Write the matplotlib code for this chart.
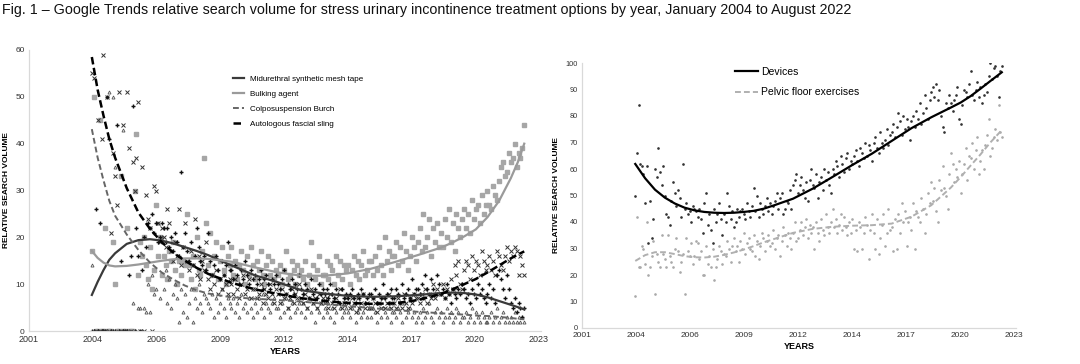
import numpy as np
import matplotlib
matplotlib.use("Agg")
import matplotlib.pyplot as plt

plt.rcParams['font.family'] = ['Liberation Sans', 'DejaVu Sans']

# ---- data (monthly, Jan 2004 - Aug 2022) ----
mesh = [0, 0, 26, 0, 23, 0, 0, 0, 50, 41, 0, 0,
        0, 44, 0, 15, 0, 0, 0, 12, 16, 48, 0, 22,
        16, 0, 13, 20, 18, 23, 22, 25, 21, 23, 19, 20,
        23, 22, 19, 22, 18, 20, 17, 21, 19, 16, 34, 18,
        21, 17, 15, 19, 14, 16, 22, 18, 15, 14, 16, 13,
        21, 15, 12, 14, 16, 13, 11, 15, 12, 14, 19, 13,
        13, 11, 14, 12, 10, 13, 11, 15, 12, 10, 13, 11,
        12, 10, 11, 13, 9, 11, 12, 10, 9, 11, 10, 12,
        10, 9, 11, 13, 8, 10, 9, 11, 8, 10, 9, 12,
        9, 8, 10, 9, 7, 11, 8, 9, 7, 10, 8, 9,
        8, 9, 7, 10, 8, 7, 9, 8, 6, 9, 7, 8,
        7, 8, 9, 7, 6, 8, 7, 9, 8, 6, 7, 8,
        8, 7, 9, 6, 8, 7, 10, 7, 8, 6, 9, 7,
        7, 9, 8, 6, 10, 7, 8, 9, 7, 11, 8, 9,
        9, 8, 10, 7, 12, 9, 8, 11, 9, 8, 12, 10,
        8, 9, 7, 10, 8, 6, 9, 8, 7, 9, 8, 10,
        9, 7, 8, 6, 9, 8, 7, 10, 8, 9, 7, 6,
        8, 10, 7, 9, 6, 12, 13, 11, 9, 7, 12, 9,
        6, 5, 7, 4, 6, 5, 3, 5]

bulking = [17, 50, 0, 0, 45, 0, 0, 22, 0, 0, 0, 19,
           10, 0, 0, 33, 0, 0, 22, 0, 0, 0, 30, 42,
           12, 19, 16, 20, 14, 11, 18, 9, 13, 27, 16, 20,
           12, 16, 14, 11, 17, 15, 19, 13, 10, 15, 12, 15,
           14, 25, 14, 11, 16, 9, 20, 13, 12, 17, 37, 23,
           14, 21, 12, 16, 19, 11, 15, 18, 13, 10, 16, 14,
           18, 12, 15, 11, 14, 17, 13, 10, 16, 12, 18, 14,
           11, 15, 13, 17, 12, 10, 14, 16, 12, 15, 11, 13,
           12, 14, 10, 13, 17, 11, 12, 15, 13, 10, 14, 12,
           13, 11, 15, 10, 12, 19, 14, 11, 13, 16, 10, 12,
           12, 15, 11, 14, 13, 10, 16, 12, 15, 11, 14, 13,
           14, 10, 13, 16, 12, 15, 11, 14, 17, 12, 13, 15,
           15, 12, 16, 13, 18, 14, 12, 20, 15, 17, 13, 16,
           16, 19, 14, 18, 15, 21, 17, 13, 16, 20, 18, 15,
           19, 22, 17, 25, 18, 20, 24, 16, 22, 19, 23, 18,
           21, 18, 24, 20, 26, 19, 23, 17, 25, 22, 20, 24,
           26, 22, 25, 21, 28, 24, 26, 27, 23, 29, 25, 27,
           30, 27, 26, 31, 29, 28, 32, 35, 36, 33, 34, 38,
           36, 37, 40, 35, 38, 37, 39, 44]

colpo = [14, 0, 0, 0, 0, 0, 0, 0, 0, 51, 0, 50,
         35, 0, 0, 0, 43, 0, 0, 0, 0, 6, 0, 0,
         5, 5, 0, 5, 4, 10, 4, 12, 8, 9, 23, 7,
         20, 9, 13, 6, 11, 5, 8, 10, 7, 2, 9, 4,
         8, 3, 6, 9, 2, 7, 5, 10, 6, 4, 8, 7,
         6, 5, 8, 3, 7, 4, 6, 9, 5, 3, 7, 6,
         5, 7, 4, 6, 3, 8, 5, 6, 4, 7, 5, 3,
         6, 4, 7, 5, 8, 3, 6, 5, 4, 6, 7, 5,
         5, 3, 6, 4, 7, 5, 3, 6, 8, 4, 5, 6,
         4, 6, 3, 5, 7, 4, 6, 2, 5, 4, 6, 3,
         5, 4, 6, 3, 5, 2, 4, 6, 5, 3, 4, 5,
         4, 3, 5, 6, 2, 4, 5, 3, 4, 6, 3, 5,
         3, 5, 4, 2, 6, 3, 5, 4, 3, 5, 2, 4,
         4, 3, 5, 4, 2, 6, 3, 4, 5, 3, 4, 2,
         3, 4, 2, 5, 3, 4, 6, 3, 2, 4, 5, 3,
         4, 2, 3, 5, 3, 4, 2, 3, 5, 4, 2, 3,
         3, 4, 2, 3, 5, 2, 4, 3, 2, 4, 3, 2,
         2, 3, 4, 2, 3, 5, 2, 3, 4, 2, 3, 2,
         3, 2, 4, 2, 3, 2, 3, 2]

sling = [55, 54, 0, 45, 0, 41, 59, 0, 50, 0, 21, 38,
         33, 27, 51, 0, 44, 0, 51, 39, 0, 36, 30, 37,
         49, 0, 35, 0, 29, 24, 22, 0, 31, 30, 23, 19,
         22, 20, 18, 26, 23, 17, 15, 19, 16, 26, 14, 18,
         23, 15, 13, 17, 14, 24, 12, 16, 11, 15, 13, 19,
         11, 9, 12, 10, 13, 8, 11, 9, 12, 10, 8, 11,
         10, 8, 11, 9, 7, 10, 12, 8, 9, 11, 7, 9,
         9, 7, 8, 10, 6, 9, 8, 7, 10, 8, 6, 9,
         8, 6, 9, 7, 8, 5, 7, 9, 6, 8, 7, 10,
         7, 6, 8, 5, 7, 9, 6, 7, 5, 8, 6, 7,
         6, 7, 5, 8, 6, 5, 7, 6, 9, 5, 6, 7,
         6, 5, 7, 6, 4, 7, 5, 6, 8, 5, 6, 5,
         5, 7, 6, 4, 6, 5, 7, 5, 6, 8, 5, 6,
         6, 5, 7, 6, 5, 8, 6, 5, 7, 6, 8, 7,
         7, 6, 8, 7, 9, 6, 8, 7, 10, 7, 9, 8,
         8, 10, 7, 9, 8, 11, 9, 14, 12, 15, 10, 9,
         13, 15, 14, 11, 16, 13, 15, 14, 12, 17, 15, 13,
         14, 16, 13, 15, 12, 17, 16, 14, 13, 16, 18, 15,
         17, 16, 18, 17, 12, 16, 14, 12]

devices = [50, 66, 84, 62, 61, 58, 47, 61, 32, 48, 34, 41,
           60, 57, 68, 59, 54, 61, 50, 43, 42, 39, 48, 55,
           51, 46, 52, 49, 42, 62, 45, 47, 43, 44, 40, 46,
           45, 44, 42, 45, 41, 36, 47, 51, 39, 43, 37, 32,
           45, 40, 43, 47, 41, 35, 43, 40, 51, 46, 41, 44,
           38, 40, 45, 42, 44, 45, 43, 41, 47, 44, 42, 46,
           53, 44, 50, 42, 47, 45, 43, 46, 49, 44, 47, 43,
           46, 48, 51, 45, 49, 51, 43, 45, 48, 47, 52, 45,
           54, 56, 58, 51, 54, 57, 52, 49, 55, 48, 56, 60,
           54, 53, 58, 49, 55, 57, 52, 60, 56, 59, 54, 51,
           60, 58, 63, 61, 57, 65, 62, 59, 64, 66, 60, 63,
           62, 65, 67, 63, 61, 68, 66, 64, 70, 65, 69, 67,
           63, 70, 72, 68, 66, 74, 70, 68, 71, 75, 69, 73,
           74, 77, 72, 76, 81, 78, 73, 80, 75, 79, 76, 71,
           78, 80, 76, 82, 79, 85, 77, 81, 88, 83, 79, 86,
           89, 91, 87, 92, 86, 90, 80, 76, 74, 85, 83, 88,
           85, 82, 86, 88, 91, 79, 77, 84, 90, 89, 87, 92,
           97, 88, 86, 90, 93, 87, 91, 85, 88, 92, 89, 95,
           100, 94, 98, 99, 95, 87, 97, 99]

pelvic = [12, 42, 23, 23, 31, 30, 24, 40, 20, 23, 27, 33,
          13, 28, 25, 23, 35, 28, 26, 23, 35, 27, 25, 23,
          30, 34, 29, 21, 25, 28, 13, 34, 29, 27, 32, 24,
          27, 33, 32, 26, 29, 20, 20, 31, 24, 27, 23, 30,
          18, 23, 26, 31, 29, 24, 28, 27, 33, 30, 25, 31,
          34, 29, 31, 25, 33, 30, 36, 28, 32, 34, 30, 29,
          35, 27, 33, 26, 31, 36, 34, 29, 33, 35, 31, 32,
          37, 30, 34, 35, 27, 33, 38, 35, 31, 36, 34, 30,
          36, 40, 33, 34, 37, 40, 35, 38, 41, 34, 39, 36,
          38, 30, 40, 36, 33, 41, 37, 35, 43, 38, 36, 40,
          45, 38, 41, 36, 39, 43, 37, 42, 38, 35, 40, 36,
          41, 30, 37, 29, 40, 38, 30, 36, 42, 39, 26, 37,
          43, 36, 30, 41, 28, 34, 39, 43, 31, 36, 45, 37,
          38, 29, 41, 30, 43, 36, 47, 40, 44, 31, 40, 42,
          37, 47, 30, 44, 42, 40, 49, 45, 36, 43, 51, 47,
          55, 48, 53, 44, 40, 56, 52, 61, 53, 50, 45, 58,
          66, 62, 55, 60, 57, 63, 51, 58, 62, 68, 56, 65,
          64, 70, 60, 67, 72, 58, 63, 67, 60, 69, 73, 79,
          65, 68, 72, 75, 71, 84, 74, 72]

# trend lines
trend_years_l = [2004, 2004.25, 2004.5, 2004.75, 2005, 2005.5, 2006, 2006.5, 2007, 2007.5,
                 2008, 2008.5, 2009, 2010, 2011, 2012, 2013, 2014, 2015, 2016, 2017, 2018,
                 2019, 2019.5, 2020, 2020.5, 2021, 2021.5, 2022, 2022.3, 2022.58]
mesh_trend = [7.7, 10.5, 13.0, 15.2, 16.6, 18.6, 19.4, 19.6, 19.3, 18.7, 17.9, 17.1, 16.2,
              14.0, 11.9, 10.4, 8.7, 8.0, 7.5, 7.3, 7.4, 7.7, 8.1, 8.2, 8.1, 7.8, 7.2,
              6.4, 5.6, 5.1, 4.6]
bulking_trend = [17.1, 15.6, 14.6, 14.0, 13.8, 13.9, 14.2, 14.6, 15.0, 15.3, 15.5, 15.5, 15.4,
                 14.8, 13.6, 12.5, 11.8, 11.8, 12.3, 13.3, 14.7, 16.2, 17.8, 18.9, 20.2, 21.7,
                 24.3, 27.8, 32.6, 36.0, 40.0]
colpo_trend = [43.1, 37.0, 32.2, 27.8, 24.6, 20.6, 17.3, 14.6, 12.5, 11.0, 9.7, 8.7, 8.0,
               7.2, 6.9, 6.6, 6.3, 5.8, 5.3, 4.9, 4.5, 4.1, 3.8, 3.6, 3.5, 3.3, 3.2, 3.0,
               2.8, 2.6, 2.5]
sling_trend = [58.5, 51.5, 46.0, 41.0, 37.0, 30.5, 25.3, 21.8, 19.0, 16.7, 15.0, 13.5, 12.2,
               10.3, 8.9, 7.9, 7.0, 6.4, 6.0, 5.8, 5.9, 6.6, 7.9, 8.9, 10.0, 11.1, 12.5, 14.0,
               15.5, 16.3, 17.0]

trend_years_r = [2004, 2004.5, 2005, 2005.5, 2006, 2006.5, 2007, 2007.5, 2008, 2008.5, 2009,
                 2009.5, 2010, 2010.5, 2011, 2011.5, 2012, 2013, 2014, 2015, 2016, 2017, 2018,
                 2019, 2020, 2020.5, 2021, 2021.5, 2022, 2022.58]
devices_trend = [61.9, 56.5, 52.2, 49.2, 47.0, 45.4, 44.4, 43.8, 43.5, 43.4, 43.5, 43.8, 44.2,
                 45.0, 46.2, 47.5, 48.8, 52.6, 57.0, 61.5, 65.8, 70.6, 75.4, 79.5, 83.2, 85.1,
                 87.5, 90.3, 93.2, 96.5]
pelvic_trend = [25.3, 27.5, 28.6, 28.6, 27.9, 27.1, 26.7, 26.6, 26.9, 27.6, 28.5, 29.6, 30.9,
                32.3, 33.5, 34.7, 35.9, 37.4, 38.2, 38.6, 38.8, 39.4, 42.0, 46.3, 53.0, 57.0,
                61.3, 65.5, 70.0, 74.7]

tick_labels = ['2001', '2004', '2006', '2009', '2012', '2014', '2017', '2020', '2023']

months = 2004 + np.arange(len(mesh)) / 12.0
ticks = 2001.3 + 2.738 * np.arange(len(tick_labels))

fig = plt.figure(figsize=(10.8, 3.64), dpi=100)
fig.text(0.002, 0.972, "Fig. 1 \u2013 Google Trends relative search volume for stress urinary "
         "incontinence treatment options by year, January 2004 to August 2022",
         fontsize=10.25, va='center', ha='left', color='#111111')


def style_axes(ax, ymax, ystep, ylab_size):
    ax.set_xlim(2001.3, 2023.3)
    ax.set_ylim(0, ymax)
    ax.set_xticks(ticks)
    ax.set_xticklabels(tick_labels)
    ax.set_yticks(np.arange(0, ymax + 1, ystep))
    for s in ['top', 'right']:
        ax.spines[s].set_visible(False)
    for s in ['left', 'bottom']:
        ax.spines[s].set_color('#d9d9d9')
        ax.spines[s].set_linewidth(0.9)
    ax.tick_params(length=0, pad=3, colors='#333333')
    ax.tick_params(axis='y', labelsize=ylab_size)
    ax.set_xlabel('YEARS', fontsize=6.5, fontweight='bold', labelpad=2)
    ax.set_ylabel('RELATIVE SEARCH VOLUME', fontsize=6, fontweight='bold', labelpad=4)


# ---- left panel ----
ax1 = fig.add_axes([29 / 1080, 33 / 364, 512 / 1080, 281 / 364])
style_axes(ax1, 60, 10, 6)
ax1.tick_params(axis='x', labelsize=6.5)

ax1.plot(months, bulking, 's', ms=2.2, color='#a6a6a6', mec='#a6a6a6', zorder=2)
ax1.plot(months, colpo, '^', ms=2.2, color='none', mec='#555555', mew=0.6, zorder=2)
ax1.plot(months, sling, 'x', ms=2.8, color='#333333', mew=0.7, zorder=2)
ax1.plot(months, mesh, '+', ms=2.8, color='#111111', mew=1.0, zorder=2)

l1, = ax1.plot(trend_years_l, mesh_trend, '-', color='#3a3a3a', lw=1.6, zorder=3,
               label='Midurethral synthetic mesh tape')
l2, = ax1.plot(trend_years_l, bulking_trend, '-', color='#9a9a9a', lw=1.6, zorder=3,
               label='Bulking agent')
l3, = ax1.plot(trend_years_l, colpo_trend, '--', color='#666666', lw=1.4, dashes=(3, 1.6),
               zorder=3, label='Colposuspension Burch')
l4, = ax1.plot(trend_years_l, sling_trend, '--', color='#000000', lw=1.8, dashes=(3, 1.4),
               zorder=3, label='Autologous fascial sling')
ax1.legend(handles=[l1, l2, l3, l4], loc='upper left', bbox_to_anchor=(0.385, 0.935),
           frameon=False, fontsize=5.8, handlelength=1.3, handletextpad=0.8,
           labelspacing=0.9)

# ---- right panel ----
ax2 = fig.add_axes([582 / 1080, 36 / 364, 434 / 1080, 265 / 364])
style_axes(ax2, 100, 10, 5.3)
ax2.tick_params(axis='x', labelsize=6)

ax2.plot(months, pelvic, '.', ms=1.8, color='#aaaaaa', zorder=2)
ax2.plot(months, devices, '.', ms=1.8, color='#333333', zorder=2)
r1, = ax2.plot(trend_years_r, devices_trend, '-', color='#000000', lw=1.6, zorder=3,
               label='Devices')
r2, = ax2.plot(trend_years_r, pelvic_trend, '--', color='#b0b0b0', lw=1.4, dashes=(3, 1.6),
               zorder=3, label='Pelvic floor exercises')
ax2.legend(handles=[r1, r2], loc='upper left', bbox_to_anchor=(0.33, 1.02),
           frameon=False, fontsize=7.5, handlelength=2.2, handletextpad=0.3,
           labelspacing=1.0)

fig.savefig('out.png', dpi=100)
